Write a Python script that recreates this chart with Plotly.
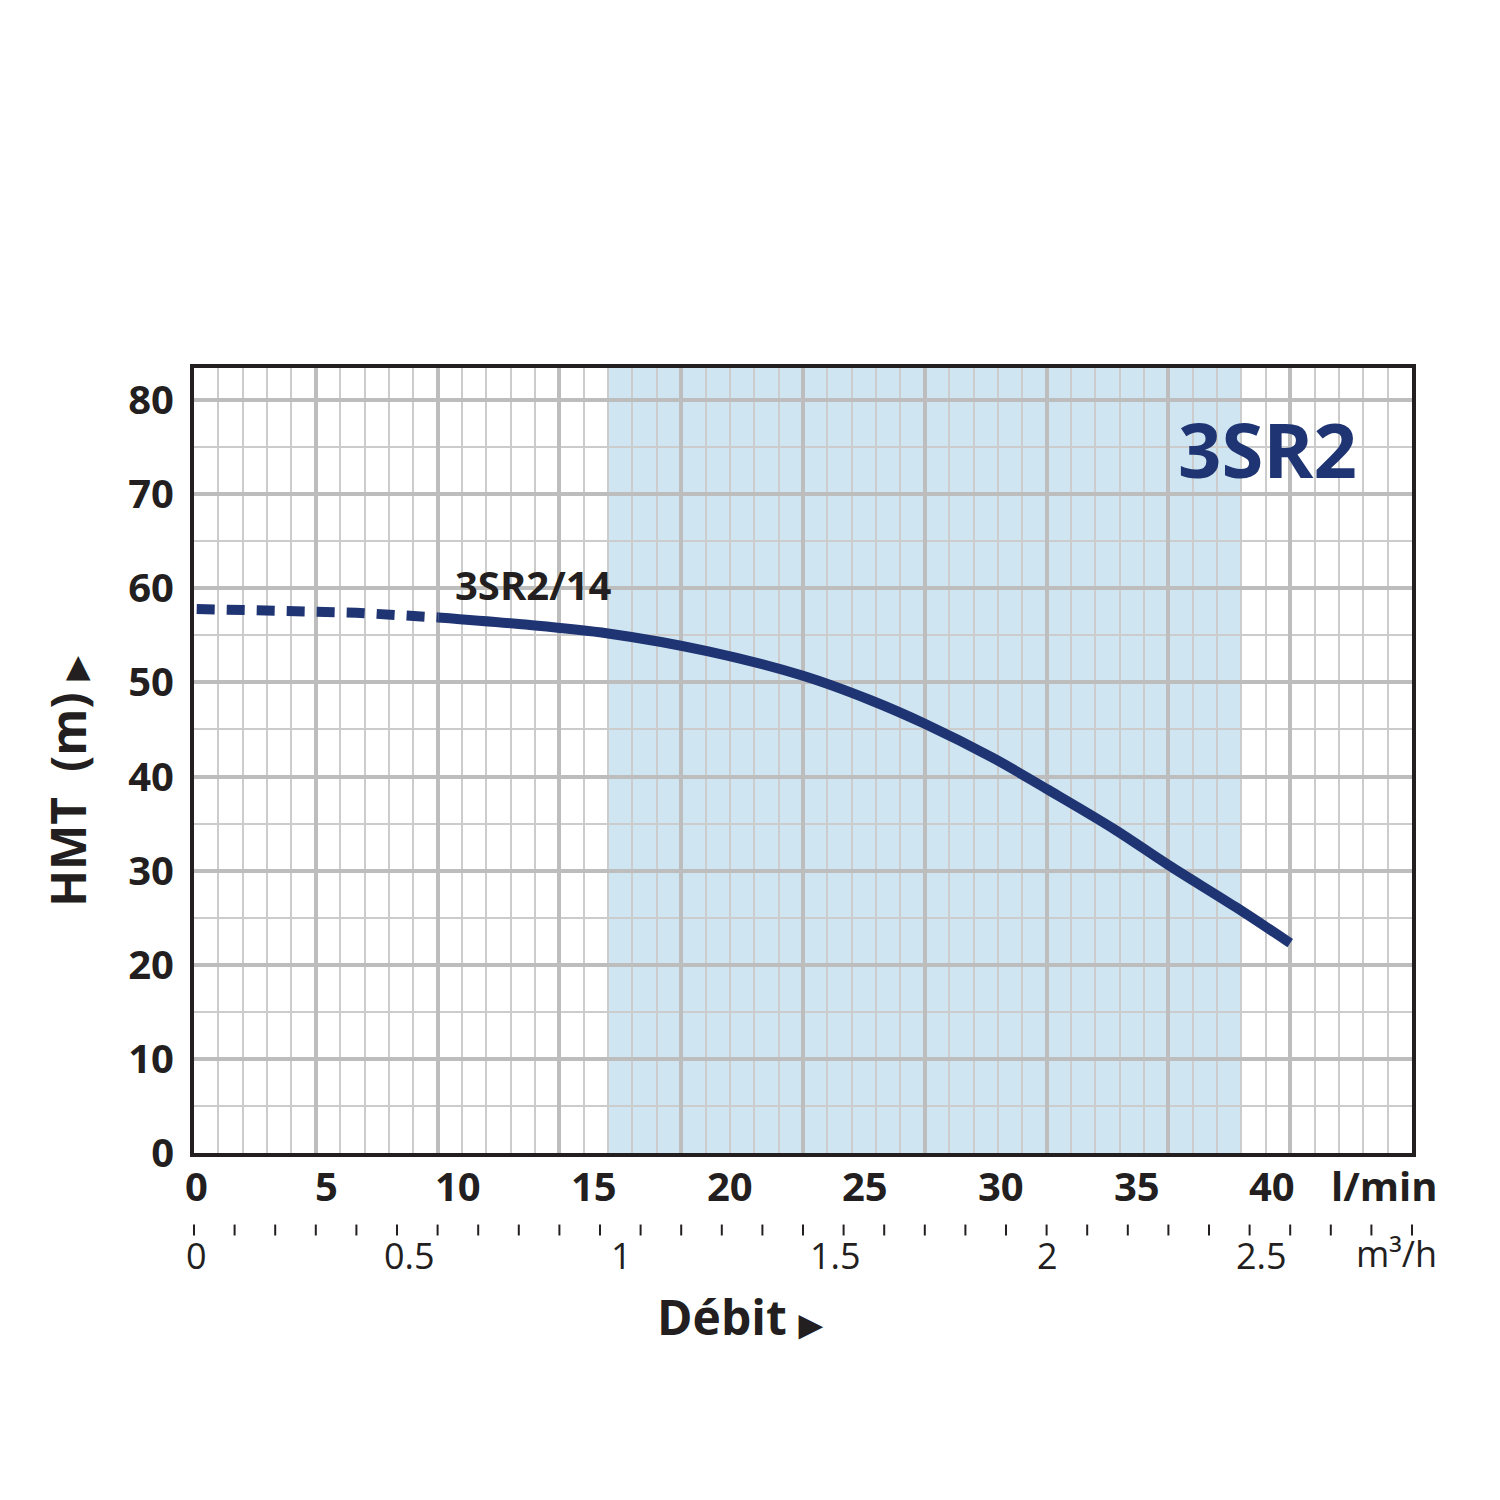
import plotly.graph_objects as go

W, H = 1500, 1500
# target plot box in picture pixels
PX0, PX1, PY0, PY1 = 192, 1413, 365, 1155
XMAX, YMAX = 45.0, 83.4

dash_x = [0.1, 3, 6, 9.03]
dash_y = [57.8, 57.7, 57.4, 56.9]
curve_x = [9.03, 12, 15.3, 19, 22.5, 25, 27.0, 29.5, 31.55, 34, 36.0, 38.5, 40.5]
curve_y = [56.9, 56.2, 55.2, 53.3, 50.7, 48.1, 45.6, 42.0, 38.6, 34.4, 30.6, 26.1, 22.3]
band = [15.3, 38.7]
y_ticks = [0, 10, 20, 30, 40, 50, 60, 70, 80]
lmin_labels = ["0", "5", "10", "15", "20", "25", "30", "35", "40"]
lmin_px = [195, 325, 457, 593, 729, 865, 1001, 1137, 1273]
m3h_labels = ["0", "0.5", "1", "1.5", "2", "2.5"]
m3h_px = [195, 408, 621, 835, 1048, 1262]

NAVY = "#1f3473"
FONT = "Open Sans"
DARK = "#231f20"

def px2paper_x(px):
    return (px - PX0) / (PX1 - PX0)

def px2paper_y(py):
    return (PY1 - py) / (PY1 - PY0)

fig = go.Figure()
fig.add_vrect(x0=band[0], x1=band[1], fillcolor="#cfe6f2", line_width=0, layer="below")
fig.add_trace(go.Scatter(x=dash_x, y=dash_y, mode="lines",
                         line=dict(color=NAVY, width=10, dash="18px,12px"), hoverinfo="skip"))
fig.add_trace(go.Scatter(x=curve_x, y=curve_y, mode="lines", line_shape="spline",
                         line=dict(color=NAVY, width=10), hoverinfo="skip"))

def text(px, py, t, size, bold=True, color=DARK, angle=0, xa="center"):
    return dict(x=px2paper_x(px), y=px2paper_y(py), xref="paper", yref="paper",
                text=t, showarrow=False, xanchor=xa, yanchor="middle", textangle=angle,
                font=dict(family=FONT, size=size, color=color, weight="bold" if bold else "normal"))

ann = []
for lab, px in zip(lmin_labels, lmin_px):
    ann.append(text(px, 1188, lab, 40))
ann.append(text(1385, 1188, "l/min", 40))
for lab, px in zip(m3h_labels, m3h_px):
    ann.append(text(px, 1258, lab, 36, bold=False))
ann.append(text(1397, 1256, "m³/h", 36, bold=False))
ann.append(text(740, 1320, "Débit <span style='font-size:30px'>▶</span>", 48))
ann.append(text(65, 780, "HMT  (m) <span style='font-size:30px'>▶</span>", 48, angle=-90))
ann.append(text(1268, 446, "3SR2", 76, color=NAVY))
ann.append(text(532, 583, "3SR2/14", 40))

shapes = [dict(type="line", xref="paper", yref="paper", x0=0, x1=1,
               y0=px2paper_y(1227), y1=px2paper_y(1227), line=dict(color=DARK, width=2))]
for i in range(31):
    xp = i / 30
    shapes.append(dict(type="line", xref="paper", yref="paper", x0=xp, x1=xp,
                       y0=px2paper_y(1227), y1=px2paper_y(1238), line=dict(color=DARK, width=2)))

fig.update_layout(
    width=W, height=H, margin=dict(l=186, r=96, t=360, b=355),
    paper_bgcolor="white", plot_bgcolor="white", showlegend=False,
    annotations=ann, shapes=shapes,
    xaxis=dict(range=[0, XMAX], showticklabels=False, ticks="", dtick=XMAX / 10, tick0=0,
               showgrid=True, gridcolor="#bdbdbd", gridwidth=4, zeroline=False,
               minor=dict(dtick=XMAX / 50, showgrid=True, gridcolor="#cccccc", gridwidth=1.5),
               showline=True, linecolor=DARK, linewidth=4, mirror=True),
    yaxis=dict(range=[0, YMAX], tickvals=y_ticks, ticks="", zeroline=False,
               showgrid=True, gridcolor="#bdbdbd", gridwidth=4,
               minor=dict(dtick=5, showgrid=True, gridcolor="#cccccc", gridwidth=1.5),
               tickfont=dict(family=FONT, size=40, color=DARK, weight="bold"),
               ticklabelstandoff=8,
               showline=True, linecolor=DARK, linewidth=4, mirror=True),
)
fig.write_html("out.html")
